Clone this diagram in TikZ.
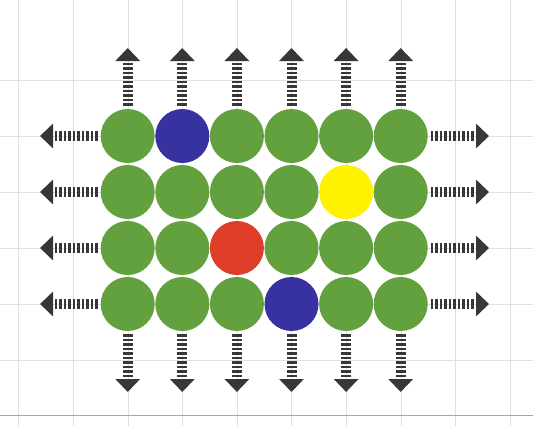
\documentclass[tikz,border=0pt]{standalone}
\usetikzlibrary{arrows.meta}
\definecolor{ballgreen}{RGB}{99,160,62}
\definecolor{ballblue}{RGB}{55,50,160}
\definecolor{ballred}{RGB}{222,62,40}
\definecolor{ballyellow}{RGB}{255,242,0}
\definecolor{arrowgray}{RGB}{55,55,55}
\definecolor{gridgray}{RGB}{224,224,224}
\begin{document}
\begin{tikzpicture}[x=1pt,y=-1pt,
  ball/.style={circle,minimum size=54pt,inner sep=0pt,draw=none,fill=#1},
  outarrow/.style={draw=arrowgray,line width=10pt,dash pattern=on 2.5pt off 2pt,
    shorten <=3pt,-{Triangle[width=24pt,length=13pt]}},
  gridline/.style={draw=gridgray,line width=0.6pt}]
\useasboundingbox (0,0) rectangle (533,426);
\fill[white] (0,0) rectangle (533,426);
% background grid
\foreach \gx in {18,73,128,182,237,291,346,401,455,510}
  \draw[gridline] (\gx,0) -- (\gx,426);
\foreach \gy in {80,136,192,248,304,360}
  \draw[gridline] (0,\gy) -- (533,\gy);
\draw[gridline,draw=gray!70] (0,415) -- (533,415);
% balls
\foreach \r/\cols in {1/{ballgreen,ballblue,ballgreen,ballgreen,ballgreen,ballgreen},
                      2/{ballgreen,ballgreen,ballgreen,ballgreen,ballyellow,ballgreen},
                      3/{ballgreen,ballgreen,ballred,ballgreen,ballgreen,ballgreen},
                      4/{ballgreen,ballgreen,ballgreen,ballblue,ballgreen,ballgreen}}{
  \foreach \col [count=\c, evaluate=\c as \xx using 127.7+54.6*(\c-1)] in \cols {
    \pgfmathsetmacro\yy{136+56*(\r-1)}
    \node[ball=\col] (c\r\c) at (\xx,\yy) {};
  }
}
% arrows up and down
\foreach \c [evaluate=\c as \xx using 127.7+54.6*(\c-1)] in {1,...,6}{
  \coordinate (t\c) at (\xx,48);
  \coordinate (b\c) at (\xx,392);
  \draw[outarrow] (c1\c.north) -- (t\c);
  \draw[outarrow] (c4\c.south) -- (b\c);
}
% arrows left and right
\foreach \r [evaluate=\r as \yy using 136+56*(\r-1)] in {1,...,4}{
  \coordinate (l\r) at (40,\yy);
  \coordinate (q\r) at (489,\yy);
  \draw[outarrow] (c\r1.west) -- (l\r);
  \draw[outarrow] (c\r6.east) -- (q\r);
}
\end{tikzpicture}
\end{document}
